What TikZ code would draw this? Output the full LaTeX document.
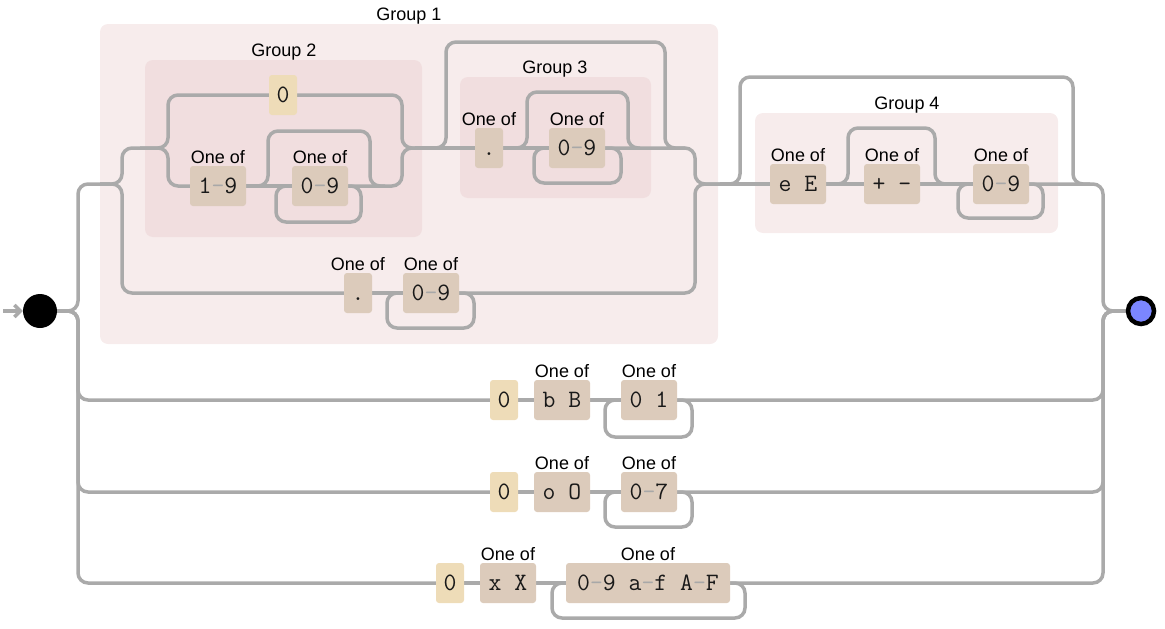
\documentclass[tikz,border=0pt]{standalone}
\usepackage{xcolor}
\usepackage{fontspec}
\setmainfont{Liberation Sans}
\usepackage{tikz}
\usetikzlibrary{arrows.meta}

\definecolor{trackgray}{HTML}{AAAAAA}
\definecolor{grpouter}{HTML}{F7ECEC}
\definecolor{grpinner}{HTML}{F1DEDF}
\definecolor{setfill}{HTML}{DCCBBB}
\definecolor{litfill}{HTML}{EEDCB8}
\definecolor{endblue}{HTML}{7B86FF}
\definecolor{dashgray}{HTML}{A8A8A8}
\newcommand{\rangedash}{\textcolor{dashgray}{-}}

\pgfdeclarelayer{grp}
\pgfdeclarelayer{rail}
\pgfsetlayers{grp,rail,main}

\begin{document}
\begin{tikzpicture}[x=1pt, y=-1pt,
    track/.style={draw=trackgray, line width=3.5pt, rounded corners=10pt},
    box/.style={rounded corners=3pt, minimum height=40pt, inner sep=0pt, text height=15.5pt, text depth=0pt, font=\fontsize{25}{27}\ttfamily, text=black!90},
    oneof/.style={font=\fontsize{18}{20}\selectfont, inner sep=1.5pt},
    setbox/.style={box, fill=setfill, label={[oneof]above:One of}},
    litbox/.style={box, fill=litfill},
    w1/.style={minimum width=28pt},
    w3/.style={minimum width=56pt},
    grplabel/.style={font=\fontsize{18}{20}\selectfont, anchor=base, inner sep=0pt}]
    \useasboundingbox (0,0) rectangle (1165,629);

    % start / end
    \node (start) [circle, fill=black, minimum size=34pt, inner sep=0pt] at (40,311) {};
    \coordinate (entry) at (3,311);

    % group 1 / group 2
    \node (lit0a) [litbox, w1] at (283,95) {0};
    \node (d19) [setbox, w3] at (218,186) {1\rangedash9};
    \node (d09a) [setbox, w3] at (320,186) {0\rangedash9};
    % group 3
    \node (dot3) [setbox, w1] at (489,148) {.};
    \node (d09b) [setbox, w3] at (577,148) {0\rangedash9};
    % second branch of group 1
    \node (dotB) [setbox, w1] at (358,293) {.};
    \node (d09c) [setbox, w3] at (431,293) {0\rangedash9};
    % group 4
    \node (eE) [setbox, w3] at (798,184) {e E};
    \node (pm) [setbox, w3] at (892,184) {+ -};
    \node (d09d) [setbox, w3] at (1001,184) {0\rangedash9};
    % binary
    \node (lit0b) [litbox, w1] at (504,400) {0};
    \node (bB) [setbox, w3] at (562,400) {b B};
    \node (d01) [setbox, w3] at (649,400) {0 1};
    % octal
    \node (lit0c) [litbox, w1] at (504,492) {0};
    \node (oO) [setbox, w3] at (562,492) {o O};
    \node (d07) [setbox, w3] at (649,492) {0\rangedash7};
    % hex
    \node (lit0d) [litbox, w1] at (450,583) {0};
    \node (xX) [setbox, w3] at (508,583) {x X};
    \node (hexd) [setbox, minimum width=164pt] at (648,583) {0\rangedash9 a\rangedash f A\rangedash F};

    \node (end) [circle, draw=black, line width=4.5pt, fill=endblue, minimum size=26pt, inner sep=0pt] at (1141,311) {};

    \begin{pgfonlayer}{grp}
        \fill[grpouter, rounded corners=8pt] (100,24) rectangle (718,344);
        \fill[grpinner, rounded corners=8pt] (145,60) rectangle (422,237);
        \fill[grpinner, rounded corners=8pt] (460,77) rectangle (651,198);
        \fill[grpouter, rounded corners=8pt] (755,113) rectangle (1058,233);
    \end{pgfonlayer}
    \node (g1) [grplabel] at (409,20) {Group 1};
    \node (g2) [grplabel] at (284,56) {Group 2};
    \node (g3) [grplabel] at (555,73) {Group 3};
    \node (g4) [grplabel] at (907,109) {Group 4};

    \begin{pgfonlayer}{rail}
        \draw[track, -{Straight Barb[length=6pt,width=12pt]}] (entry) -- (start.west);
        \draw[track] (start.east) -| (78,184) -- (110,184);
        \draw[track] (start.east) -| (78,400) -- (lit0b.west);
        \draw[track] (start.east) -| (78,492) -- (lit0c.west);
        \draw[track] (start.east) -| (78,583) -- (lit0d.west);

        % group 1, first branch
        \draw[track] (100,184) -| (122,148) -| (168,95) -- (lit0a.west);
        \draw[track] (140,148) -| (168,186) -- (d19.west);
        \draw[track] (d19.east) -- (d09a.west);
        \draw[track] (250,186) -| (268,131) -| (370,186) -- (385,186);
        \draw[track] (d09a.east) -| (361,222) -| (276,186) -- (d09a.west);
        \draw[track] (lit0a.east) -| (402,148) -- (425,148);
        \draw[track] (d09a.east) -| (402,148) -- (425,148);
        \draw[track] (415,148) -- (dot3.west);
        \draw[track] (425,148) -| (446,42) -| (665,148) -- (685,148);
        \draw[track] (dot3.east) -- (d09b.west);
        \draw[track] (510,148) -| (527,92) -| (628,148) -- (640,148);
        \draw[track] (d09b.east) -| (621,183) -| (534,148) -- (d09b.west);
        \draw[track] (d09b.east) -| (695,184) -- (730,184);

        % group 1, second branch
        \draw[track] (100,184) -| (122,293) -- (dotB.west);
        \draw[track] (dotB.east) -- (d09c.west);
        \draw[track] (d09c.east) -| (474,328) -| (387,293) -- (d09c.west);
        \draw[track] (d09c.east) -| (695,184) -- (730,184);

        % group 4
        \draw[track] (720,184) -- (eE.west);
        \draw[track] (720,184) -| (740,77) -| (1073,184) -- (1090,184);
        \draw[track] (eE.east) -- (pm.west);
        \draw[track] (eE.east) -| (848,128) -| (935,184) -- (d09d.west);
        \draw[track] (pm.east) -- (d09d.west);
        \draw[track] (d09d.east) -| (1043,218) -| (958,184) -- (d09d.west);
        \draw[track] (d09d.east) -| (1103,311) -- (end.west);

        % binary
        \draw[track] (lit0b.east) -- (bB.west);
        \draw[track] (bB.east) -- (d01.west);
        \draw[track] (d01.east) -| (692,437) -| (605,400) -- (d01.west);
        \draw[track] (d01.east) -| (1103,311) -- (end.west);

        % octal
        \draw[track] (lit0c.east) -- (oO.west);
        \draw[track] (oO.east) -- (d07.west);
        \draw[track] (d07.east) -| (692,527) -| (605,492) -- (d07.west);
        \draw[track] (d07.east) -| (1103,311) -- (end.west);

        % hex
        \draw[track] (lit0d.east) -- (xX.west);
        \draw[track] (xX.east) -- (hexd.west);
        \draw[track] (hexd.east) -| (745,618) -| (552,583) -- (hexd.west);
        \draw[track] (hexd.east) -| (1103,311) -- (end.west);
    \end{pgfonlayer}
\end{tikzpicture}
\end{document}
